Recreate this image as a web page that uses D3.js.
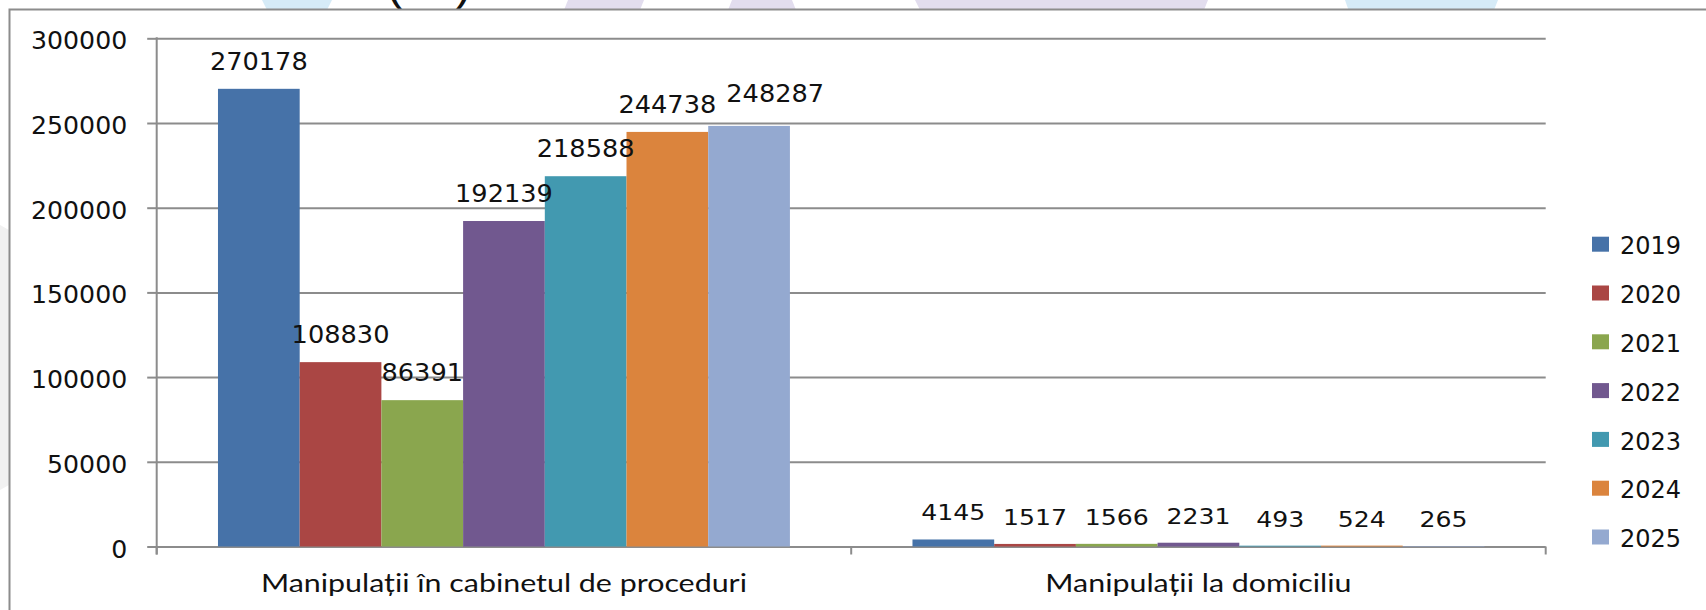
<!DOCTYPE html>
<html>
<head>
<meta charset="utf-8">
<script src="https://cdn.jsdelivr.net/npm/d3@7"></script>
<style>
  html, body { margin: 0; padding: 0; background: #ffffff; overflow: hidden; }
  svg { display: block; }
</style>
</head>
<body>
<svg id="chart" width="1706" height="610"></svg>
<script>
// ---- data ----
const categories = ["Manipulații în cabinetul de proceduri", "Manipulații la domiciliu"];
const years = ["2019", "2020", "2021", "2022", "2023", "2024", "2025"];
const valuesCabinet = [270178, 108830, 86391, 192139, 218588, 244738, 248287];
const valuesDomiciliu = [4145, 1517, 1566, 2231, 493, 524, 265];
const yTickValues = [0, 50000, 100000, 150000, 200000, 250000, 300000];
const yearColors = ["#4672a8", "#aa4644", "#8aa64e", "#71588f", "#4299b0", "#db843d", "#94a9d0"];
const titleText = "(nr.)";

const seriesByCategory = [valuesCabinet, valuesDomiciliu];

// ---- layout ----
const W = 1706, H = 610;
const plot = { left: 156.7, right: 1545.7, top: 38.3, bottom: 546.5 };
const gridColor = "#8c8c8c";
const textColor = "#111111";

const svg = d3.select("#chart");

// stretch text horizontally by factor k
function stretch(sel, k) {
  sel.each(function () {
    const w = this.getComputedTextLength();
    d3.select(this).attr("textLength", w * k).attr("lengthAdjust", "spacingAndGlyphs");
  });
}

// ---- slide decoration behind the chart frame ----
const deco = svg.append("g");
const decoShapes = [
  { pts: [[262, 0], [332, 0], [322, 20], [272, 20]], fill: "#d6ebf7" },
  { pts: [[568, 0], [644, 0], [636, 20], [560, 20]], fill: "#e2ddee" },
  { pts: [[732, 0], [792, 0], [800, 20], [724, 20]], fill: "#e2ddee" },
  { pts: [[915, 0], [1208, 0], [1200, 20], [925, 20]], fill: "#e2ddee" },
  { pts: [[1345, 0], [1498, 0], [1490, 20], [1352, 20]], fill: "#d6ebf7" },
  { pts: [[0, 225], [9, 230], [9, 485], [0, 490]], fill: "#f1f1f1" }
];
deco.selectAll("polygon").data(decoShapes).join("polygon")
  .attr("points", d => d.pts.map(p => p.join(",")).join(" "))
  .attr("fill", d => d.fill);

// title sitting above the chart frame, mostly outside the page
svg.append("text")
  .attr("x", 429).attr("y", -1)
  .attr("text-anchor", "middle")
  .attr("font-family", "Liberation Sans")
  .attr("font-size", 48)
  .attr("fill", textColor)
  .text(titleText);

// ---- chart frame ----
svg.append("rect")
  .attr("x", 9.5).attr("y", 9.5)
  .attr("width", W).attr("height", H)
  .attr("fill", "#ffffff")
  .attr("stroke", gridColor).attr("stroke-width", 2);

// ---- scales ----
const y = d3.scaleLinear().domain([0, 300000]).range([plot.bottom, plot.top]);
const x0 = d3.scaleBand().domain(categories).range([plot.left, plot.right]).padding(0);
const x1 = d3.scaleBand().domain(years).range([0, x0.bandwidth()]).paddingInner(0).paddingOuter(0.75);
const color = d3.scaleOrdinal().domain(years).range(yearColors);

// ---- gridlines ----
const grid = svg.append("g").attr("transform", `translate(${plot.left},0)`)
  .call(d3.axisLeft(y).tickValues(yTickValues).tickSize(-(plot.right - plot.left)).tickFormat(""));
grid.select(".domain").remove();
grid.selectAll("line").attr("stroke", gridColor).attr("stroke-width", 2);

// ---- y axis ticks and labels ----
const yAxis = svg.append("g").attr("transform", `translate(${plot.left},0)`)
  .call(d3.axisLeft(y).tickValues(yTickValues).tickSizeInner(9.5).tickSizeOuter(0).tickPadding(20).tickFormat(d3.format("d")));
yAxis.select(".domain").remove();
yAxis.selectAll("line").attr("stroke", gridColor).attr("stroke-width", 2);
yAxis.selectAll("text")
  .attr("font-family", "DejaVu Sans").attr("font-size", 24)
  .attr("fill", textColor).attr("dy", null).attr("y", 10.5)
  .call(stretch, 1.05);

// ---- bars ----
const groups = svg.append("g").selectAll("g").data(categories).join("g")
  .attr("transform", d => `translate(${x0(d)},0)`);

groups.selectAll("rect")
  .data((c, ci) => years.map((yr, i) => ({ cat: c, ci, year: yr, value: seriesByCategory[ci][i] })))
  .join("rect")
  .attr("x", d => x1(d.year))
  .attr("width", x1.bandwidth())
  .attr("y", d => y(d.value))
  .attr("height", d => y(0) - y(d.value))
  .attr("fill", d => color(d.year));

// ---- axis lines ----
svg.append("line")
  .attr("x1", plot.left).attr("x2", plot.left)
  .attr("y1", plot.top - 1).attr("y2", plot.bottom + 8)
  .attr("stroke", gridColor).attr("stroke-width", 2);

const xTickPositions = categories.map(c => x0(c)).concat([plot.right]);
svg.append("g").selectAll("line").data(xTickPositions).join("line")
  .attr("x1", d => d).attr("x2", d => d)
  .attr("y1", plot.bottom).attr("y2", plot.bottom + 8)
  .attr("stroke", gridColor).attr("stroke-width", 2);

// ---- value labels ----
const labelLayer = svg.append("g");
categories.forEach((c, ci) => {
  const fontSize = ci === 0 ? 24.3 : 21.5;
  const k = ci === 0 ? 1.055 : 1.17;
  let prevBox = null;
  years.forEach((yr, i) => {
    const v = seriesByCategory[ci][i];
    const cx = x0(c) + x1(yr) + x1.bandwidth() / 2;
    const t = labelLayer.append("text")
      .attr("x", cx).attr("y", y(v) - 19)
      .attr("text-anchor", "middle")
      .attr("font-family", "DejaVu Sans").attr("font-size", fontSize)
      .attr("fill", textColor)
      .text(v);
    stretch(t, k);
    let box = t.node().getBBox();
    // move a label aside when it collides with its left neighbour
    if (prevBox && box.x < prevBox.x + prevBox.width &&
        box.y < prevBox.y + prevBox.height && box.y + box.height > prevBox.y) {
      const dx = prevBox.x + prevBox.width + 10 - box.x;
      t.attr("x", cx + dx).attr("y", y(v) - 24);
      box = t.node().getBBox();
    }
    prevBox = box;
  });
});

// ---- category labels ----
svg.append("g").selectAll("text").data(categories).join("text")
  .attr("x", d => x0(d) + x0.bandwidth() / 2)
  .attr("y", 592.3)
  .attr("text-anchor", "middle")
  .attr("font-family", "Lato").attr("font-size", 24.5)
  .attr("fill", textColor)
  .text(d => d)
  .call(stretch, 1.24);

// ---- legend ----
const legend = svg.append("g").selectAll("g").data(years).join("g")
  .attr("transform", (d, i) => `translate(1592,${236.7 + i * 48.8})`);
legend.append("rect").attr("width", 17).attr("height", 15).attr("fill", d => color(d));
legend.append("text")
  .attr("x", 28).attr("y", 17.7)
  .attr("font-family", "DejaVu Sans").attr("font-size", 24)
  .attr("fill", textColor)
  .text(d => d);
</script>
</body>
</html>
